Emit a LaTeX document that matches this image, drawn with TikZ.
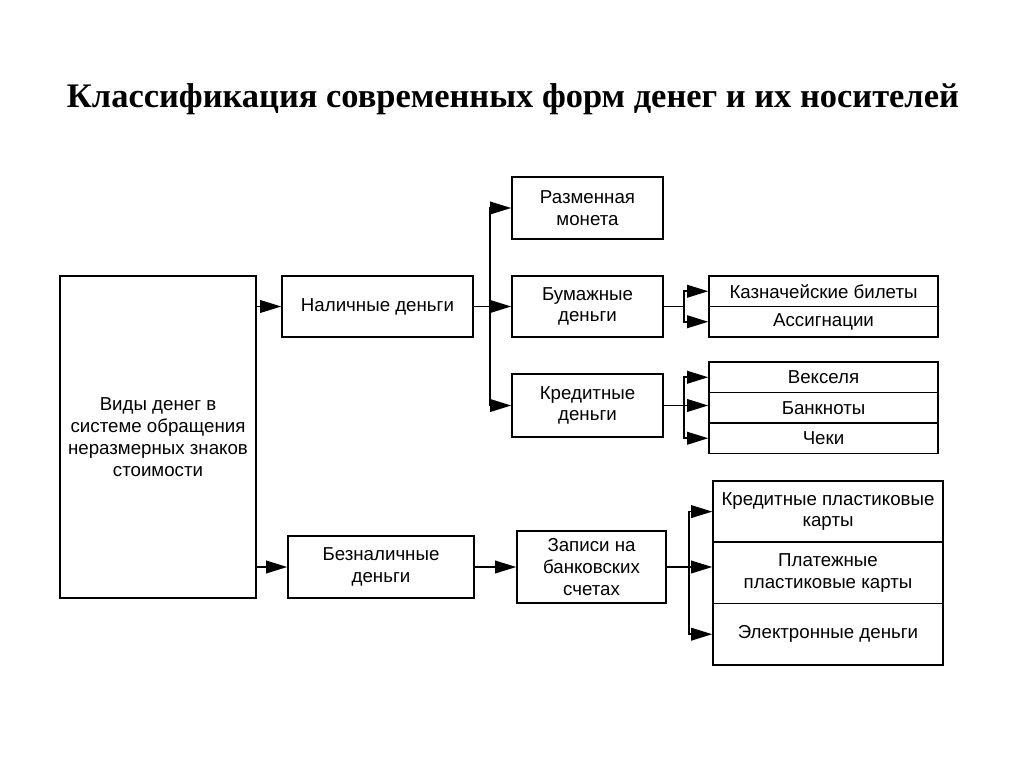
\documentclass[tikz,border=0pt]{standalone}
\usepackage{fontspec}
\setmainfont{Liberation Sans}
\newfontfamily\titlefont{Liberation Serif}
\usetikzlibrary{arrows.meta}
\usetikzlibrary{calc}

\newcommand\pxu{0.025cm}

\tikzset{
    box/.style = {draw, line width = 1.1pt, align = center, inner sep = 0pt,
        font = \fontsize{13.3}{15.5}\selectfont},
    arr/.style = {line width = 1.1pt, -{Triangle[length = 15pt, width = 9pt]}},
    link/.style = {line width = 1.1pt}
}

\begin{document}
\begin{tikzpicture}[x = 0.025cm, y = -0.025cm]
    \useasboundingbox (0,0) rectangle (1024,767);
    \node[font = \titlefont\bfseries\fontsize{24.5}{28}\selectfont] (title) at (513,99)
        {Классификация современных форм денег и их носителей};

    \node[box, minimum width = 196*\pxu, minimum height = 322*\pxu] (kinds) at (158,437)
        {Виды денег в\\системе обращения\\неразмерных знаков\\стоимости};
    \node[box, minimum width = 191*\pxu, minimum height = 61*\pxu] (cash) at (377.5,306.5) {Наличные деньги};
    \node[box, minimum width = 186*\pxu, minimum height = 62*\pxu] (noncash) at (381,567) {Безналичные\\деньги};

    \node[box, minimum width = 151*\pxu, minimum height = 62*\pxu] (change) at (587.5,208) {Разменная\\монета};
    \node[box, minimum width = 151*\pxu, minimum height = 61*\pxu] (paper) at (587.5,306.5) {Бумажные\\деньги};
    \node[box, minimum width = 151*\pxu, minimum height = 63*\pxu] (credit) at (587.5,405.5) {Кредитные\\деньги};
    \node[box, minimum width = 149*\pxu, minimum height = 72*\pxu] (records) at (591.5,567) {Записи на\\банковских\\счетах};

    % stacked boxes on the right
    \foreach \name/\txt [count = \i from 0] in {treas/Казначейские билеты, assig/Ассигнации}
        \node[box, minimum width = 229*\pxu, minimum height = 30.5*\pxu] (\name) at (823.5,291.25+30.5*\i) {\txt};
    \foreach \name/\txt [count = \i from 0] in {bills/Векселя, notes/Банкноты, cheques/Чеки}
        \node[box, minimum width = 229*\pxu, minimum height = 30.5*\pxu] (\name) at (823.5,377.25+30.5*\i) {\txt};
    \foreach \name/\txt [count = \i from 0] in {ccard/Кредитные пластиковые\\карты, pcard/Платежные\\пластиковые карты, emoney/Электронные деньги}
        \node[box, minimum width = 230*\pxu, minimum height = 61.3*\pxu] (\name) at (828,511.6+61.3*\i) {\txt};

    \draw[arr] (kinds.east |- cash.west) -- (cash.west);
    \draw[arr] (kinds.east |- noncash.west) -- (noncash.west);

    \coordinate (trunk) at (490,306.5);
    \draw[arr] (cash.east) -- (paper.west);
    \draw[arr] (trunk) |- (change.west);
    \draw[arr] (trunk) |- (credit.west);

    \draw[arr] (paper.east) -- ++(20,0) |- (treas.west);
    \draw[arr] (paper.east) -- ++(20,0) |- (assig.west);
    \draw[arr] (credit.east) -- ++(20,0) |- (bills.west);
    \draw[arr] (credit.east) -- (credit.east -| notes.west);
    \draw[arr] (credit.east) -- ++(20,0) |- (cheques.west);

    \draw[arr] (noncash.east) -- (records.west);
    \draw[arr] (records.east) -- ++(22,0) |- (ccard.west);
    \draw[arr] (records.east) -- (records.east -| pcard.west);
    \draw[arr] (records.east) -- ++(22,0) |- (emoney.west);
\end{tikzpicture}
\end{document}
